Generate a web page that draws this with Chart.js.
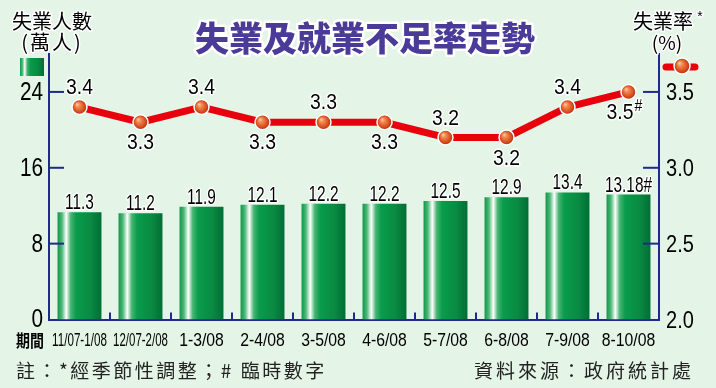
<!DOCTYPE html>
<html>
<head>
<meta charset="utf-8">
<script src="https://cdn.jsdelivr.net/npm/chart.js@4.4.1/dist/chart.umd.min.js"></script>
<style>
  html, body { margin: 0; padding: 0; background: #e4f4e6; }
  #wrap { width: 716px; height: 388px; }
</style>
</head>
<body>
<div id="wrap"><canvas id="unemp" width="716" height="388"></canvas></div>
<script>
// 失業及就業不足率走勢 — bars: 失業人數 (萬人), line: 失業率 (%)
const periods = ['11/07-1/08', '12/07-2/08', '1-3/08', '2-4/08', '3-5/08',
                 '4-6/08', '5-7/08', '6-8/08', '7-9/08', '8-10/08'];
const unemployedPersons = [11.3, 11.2, 11.9, 12.1, 12.2, 12.2, 12.5, 12.9, 13.4, 13.18];
const unemploymentRate = [3.4, 3.3, 3.4, 3.3, 3.3, 3.3, 3.2, 3.2, 3.4, 3.5];
const rateLabelSide = ['up', 'down', 'up', 'down', 'up', 'down', 'up', 'down', 'up', 'down'];
const provisionalIndex = 9;
const leftTicks = [0, 8, 16, 24];
const rightTicks = [2.0, 2.5, 3.0, 3.5];

const AXIS = '#1f2a8c';
const NUM_FONT = '"Liberation Sans", Arial, sans-serif';
const CJK = '"Noto Sans CJK TC", "Noto Sans CJK SC", sans-serif';

function barGradient(ctx, x0, x1) {
  const g = ctx.createLinearGradient(x0, 0, x1, 0);
  g.addColorStop(0, '#0c9748');
  g.addColorStop(0.1, '#4fb978');
  g.addColorStop(0.2, '#ffffff');
  g.addColorStop(0.3, '#47b572');
  g.addColorStop(0.42, '#0a9c4c');
  g.addColorStop(0.6, '#079345');
  g.addColorStop(0.75, '#0a8a42');
  g.addColorStop(1, '#006e35');
  return g;
}

function ballGradient(ctx, cx, cy, r) {
  const g = ctx.createRadialGradient(cx - r * 0.35, cy - r * 0.4, 0, cx, cy, r);
  g.addColorStop(0, '#ffd2b0');
  g.addColorStop(0.3, '#f28a52');
  g.addColorStop(0.75, '#d94c1c');
  g.addColorStop(1, '#a8300e');
  return g;
}

// text with white halo, optional horizontal squeeze
function label(ctx, s, x, y, o) {
  ctx.save();
  ctx.translate(x, y);
  ctx.scale(o.sx || 1, o.sy || 1);
  ctx.font = o.font;
  ctx.textAlign = o.align || 'center';
  ctx.textBaseline = o.base || 'middle';
  if (o.spacing) ctx.letterSpacing = o.spacing + 'px';
  if (o.halo) {
    ctx.lineJoin = 'round';
    ctx.lineWidth = o.halo;
    ctx.strokeStyle = '#ffffff';
    if (o.max) ctx.strokeText(s, 0, 0, o.max); else ctx.strokeText(s, 0, 0);
  }
  ctx.fillStyle = o.color || '#000';
  if (o.max) ctx.fillText(s, 0, 0, o.max); else ctx.fillText(s, 0, 0);
  ctx.restore();
}

const decorPlugin = {
  id: 'decor',
  afterDatasetsDraw(chart) {
    const ctx = chart.ctx;
    const xs = chart.scales.x, yl = chart.scales.y, yr = chart.scales.y1;

    // inward tick marks
    ctx.save();
    ctx.strokeStyle = AXIS;
    ctx.lineWidth = 2;
    leftTicks.forEach(v => {
      if (v === 0) return;
      const y = yl.getPixelForValue(v);
      ctx.beginPath(); ctx.moveTo(xs.left, y); ctx.lineTo(xs.left + 15, y); ctx.stroke();
    });
    rightTicks.forEach(v => {
      if (v === 2) return;
      const y = yr.getPixelForValue(v);
      ctx.beginPath(); ctx.moveTo(xs.right, y); ctx.lineTo(xs.right - 16, y); ctx.stroke();
    });
    const step = (xs.right - xs.left) / periods.length;
    for (let i = 1; i < periods.length; i++) {
      const x = xs.left + step * i;
      ctx.beginPath(); ctx.moveTo(x, yl.bottom); ctx.lineTo(x, yl.bottom - 7); ctx.stroke();
    }
    ctx.restore();

    // bar value labels
    const barMeta = chart.getDatasetMeta(1);
    barMeta.data.forEach((el, i) => {
      let s = String(unemployedPersons[i]);
      if (i === provisionalIndex) s += '#';
      label(ctx, s, el.x, el.y - 3, { font: '22px ' + NUM_FONT, sx: 0.7, base: 'alphabetic', halo: 3 });
    });

    // rate labels
    const lineMeta = chart.getDatasetMeta(0);
    lineMeta.data.forEach((pt, i) => {
      const s = String(unemploymentRate[i]);
      const y = rateLabelSide[i] === 'up' ? pt.y - 19 : pt.y + 21;
      if (i === provisionalIndex) {
        label(ctx, s, pt.x + 5, y, { font: '22px ' + NUM_FONT, sx: 0.88, align: 'right', halo: 3 });
        label(ctx, '#', pt.x + 6, y - 6, { font: '16px ' + NUM_FONT, sx: 0.88, align: 'left', halo: 3 });
      } else {
        label(ctx, s, pt.x, y, { font: '22px ' + NUM_FONT, sx: 0.88, halo: 3 });
      }
    });
  },
  afterDraw(chart) {
    const ctx = chart.ctx;
    const xs = chart.scales.x, yl = chart.scales.y, yr = chart.scales.y1;

    // axis tick labels
    leftTicks.forEach(v => {
      label(ctx, String(v), xs.left - 6, yl.getPixelForValue(v) + 1,
        { font: '25px ' + NUM_FONT, sx: 0.83, align: 'right' });
    });
    rightTicks.forEach(v => {
      label(ctx, v.toFixed(1), xs.right + 7, yr.getPixelForValue(v) + 2,
        { font: '23px ' + NUM_FONT, sx: 0.87, align: 'left' });
    });
    periods.forEach((p, i) => {
      label(ctx, p, xs.getPixelForValue(i), yl.bottom + 21,
        { font: '19px ' + NUM_FONT, sx: 0.83, max: 66 });
    });
    label(ctx, '期間', 30, yl.bottom + 21, { font: 'bold 17px ' + CJK, max: 28 });

    // titles
    label(ctx, '失業及就業不足率走勢', 365, 38,
      { font: '900 34px ' + CJK, color: '#4a3b98', halo: 5 });
    label(ctx, '失業人數', 52, 21, { font: '20px ' + CJK, halo: 3 });
    label(ctx, '(萬人)', 52, 42, { font: '20px ' + CJK, halo: 3, spacing: 2 });
    label(ctx, '失業率', 663, 21, { font: '20px ' + CJK, halo: 3 });
    label(ctx, '*', 700, 17, { font: '14px ' + NUM_FONT, halo: 3 });
    label(ctx, '(%)', 667, 43, { font: '19px ' + CJK, halo: 3 });

    // legend keys
    ctx.save();
    ctx.fillStyle = barGradient(ctx, 20, 44);
    ctx.fillRect(20, 58, 24, 18);
    ctx.strokeStyle = '#e8000c';
    ctx.lineWidth = 7;
    ctx.lineCap = 'round';
    ctx.beginPath(); ctx.moveTo(666, 67); ctx.lineTo(695, 67); ctx.stroke();
    ctx.beginPath();
    ctx.arc(682, 66, 8, 0, Math.PI * 2);
    ctx.fillStyle = ballGradient(ctx, 682, 66, 8);
    ctx.fill();
    ctx.lineWidth = 1.5; ctx.strokeStyle = '#fff'; ctx.stroke();
    ctx.restore();

    // footnotes
    label(ctx, '註：*經季節性調整；# 臨時數字', 16, 371,
      { font: '19px ' + CJK, align: 'left', color: '#222', spacing: 2.5 });
    label(ctx, '資料來源：政府統計處', 694, 371,
      { font: '19px ' + CJK, align: 'right', color: '#222', spacing: 3 });
  }
};

new Chart(document.getElementById('unemp').getContext('2d'), {
  data: {
    labels: periods,
    datasets: [
      {
        type: 'line',
        label: '失業率',
        data: unemploymentRate,
        yAxisID: 'y1',
        order: 0,
        borderColor: '#e8000c',
        borderWidth: 7,
        tension: 0,
        pointRadius: 7.5,
        pointHoverRadius: 7.5,
        pointBorderColor: '#ffffff',
        pointBorderWidth: 1.5,
        pointBackgroundColor(c) {
          const ch = c.chart;
          if (!ch.chartArea || !ch.scales.y1) return '#e05020';
          const cx = ch.scales.x.getPixelForValue(c.dataIndex);
          const cy = ch.scales.y1.getPixelForValue(unemploymentRate[c.dataIndex]);
          return ballGradient(ch.ctx, cx, cy, 7.5);
        }
      },
      {
        type: 'bar',
        label: '失業人數',
        data: unemployedPersons,
        yAxisID: 'y',
        order: 1,
        categoryPercentage: 1,
        barPercentage: 0.72,
        backgroundColor(c) {
          const ch = c.chart;
          if (!ch.chartArea || !ch.scales.x) return '#0a9a4a';
          const xs = ch.scales.x;
          const cx = xs.getPixelForValue(c.dataIndex);
          const w = (xs.right - xs.left) / periods.length * 0.72;
          return barGradient(ch.ctx, cx - w / 2, cx + w / 2);
        }
      }
    ]
  },
  options: {
    responsive: false,
    devicePixelRatio: 1,
    animation: false,
    events: [],
    layout: { padding: { top: 54, left: 0, right: 0, bottom: 0 } },
    plugins: { legend: { display: false }, tooltip: { enabled: false } },
    scales: {
      x: {
        type: 'category',
        offset: true,
        grid: { display: false },
        ticks: { display: false },
        border: { color: AXIS, width: 2 },
        afterFit(s) { s.height = 68.5; }
      },
      y: {
        position: 'left',
        min: 0,
        max: 28,
        grid: { display: false },
        ticks: { display: false },
        border: { color: AXIS, width: 2 },
        afterFit(s) { s.width = 49; }
      },
      y1: {
        position: 'right',
        min: 2,
        max: 3.75,
        grid: { display: false },
        ticks: { display: false },
        border: { color: AXIS, width: 2 },
        afterFit(s) { s.width = 57; }
      }
    }
  },
  plugins: [decorPlugin]
});
</script>
</body>
</html>
